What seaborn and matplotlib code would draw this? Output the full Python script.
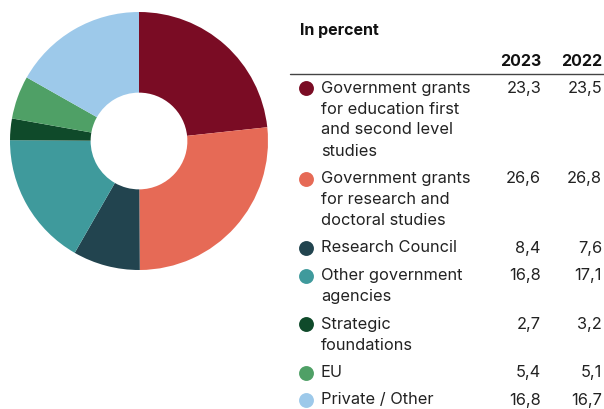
import matplotlib
matplotlib.use("Agg")
import matplotlib.pyplot as plt
import seaborn as sns

# --- Dados ---
categories = [
    "Government grants\nfor education first\nand second level\nstudies",
    "Government grants\nfor research and\ndoctoral studies",
    "Research Council",
    "Other government\nagencies",
    "Strategic\nfoundations",
    "EU",
    "Private / Other",
]
values_2023 = [23.3, 26.6, 8.4, 16.8, 2.7, 5.4, 16.8]
values_2022 = [23.5, 26.8, 7.6, 17.1, 3.2, 5.1, 16.7]
years = ["2023", "2022"]
colors = ["#7A0C24", "#E66A56", "#22444F", "#3F9A9C", "#0F4A2A", "#4FA066", "#9DC9EA"]

sns.set_style("white")
plt.rcParams["font.family"] = ["Inter", "DejaVu Sans"]

W, H = 604, 409
fig = plt.figure(figsize=(W / 100, H / 100), dpi=100)

# --- Tabela (coordenadas em pixels) ---
ax_t = fig.add_axes([0, 0, 1, 1])
ax_t.set_xlim(0, W)
ax_t.set_ylim(H, 0)
ax_t.axis("off")

fs = 11.8
ax_t.text(300, 30, "In percent", fontsize=11.5, fontweight="bold", va="center", ha="left", color="#111111")
col_x = [541, 602]
for x, yr in zip(col_x, years):
    ax_t.text(x, 61, yr, fontsize=11.5, fontweight="bold", va="center", ha="right", color="#111111")
ax_t.plot([290, W], [74, 74], color="#444444", lw=1)

y = 88
line_step = 21
for cat, v23, v22, c in zip(categories, values_2023, values_2022, colors):
    lines = cat.split("\n")
    ax_t.scatter([306], [y], s=115, color=c, zorder=3, linewidths=0)
    for i, ln in enumerate(lines):
        ax_t.text(321, y + i * line_step, ln, fontsize=fs, va="center", ha="left", color="#222222")
    ax_t.text(col_x[0], y, f"{v23:.1f}".replace(".", ","), fontsize=fs, va="center", ha="right", color="#222222")
    ax_t.text(col_x[1], y, f"{v22:.1f}".replace(".", ","), fontsize=fs, va="center", ha="right", color="#222222")
    y += (len(lines) - 1) * line_step + 27.5

# --- Rosca ---
cx, cy, r = 139, 141, 129
ax_p = fig.add_axes([(cx - r) / W, (H - cy - r) / H, 2 * r / W, 2 * r / H])
ax_p.pie(
    values_2023,
    colors=sns.color_palette(colors),
    startangle=90,
    counterclock=False,
    radius=1,
    wedgeprops=dict(width=0.625, edgecolor="none"),
)
ax_p.set_aspect("equal")
ax_p.set_xlim(-1, 1)
ax_p.set_ylim(-1, 1)

fig.savefig("out.png", dpi=100)
